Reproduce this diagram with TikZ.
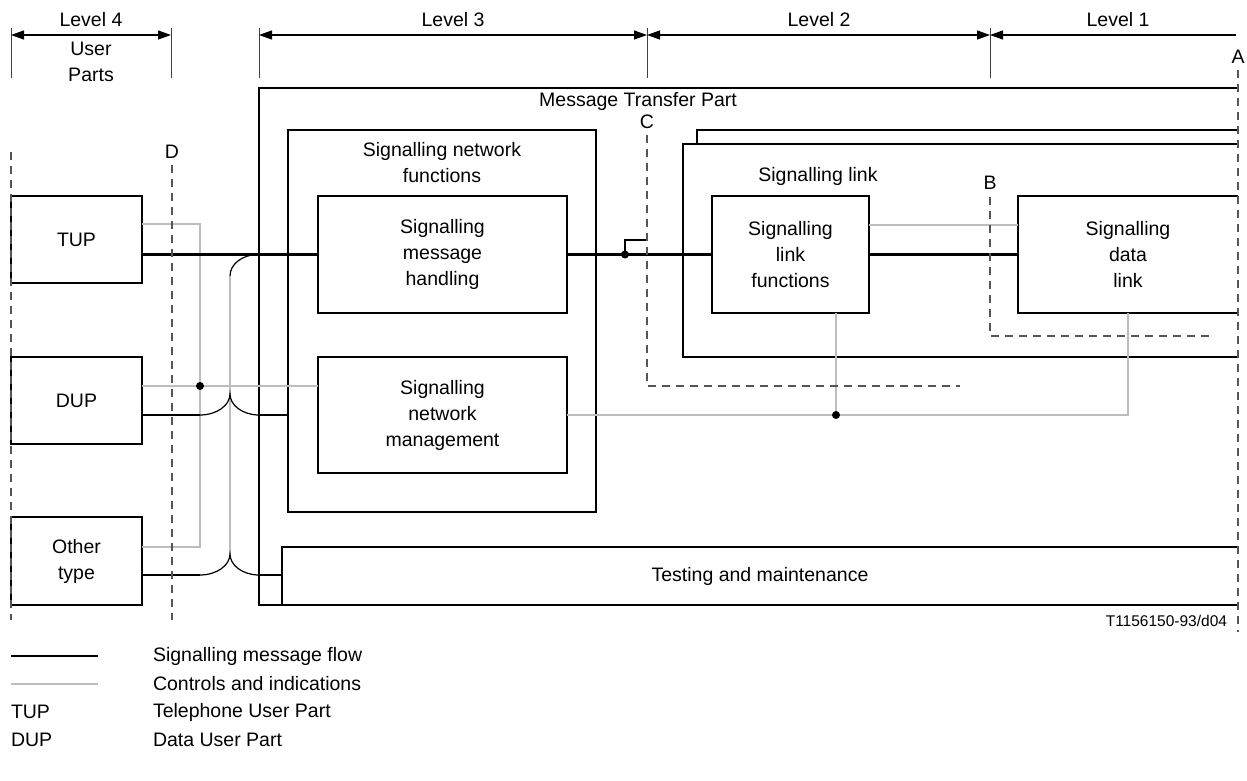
\documentclass[tikz,border=0pt]{standalone}
\usepackage{fontspec}
\setmainfont{Liberation Sans}
\usetikzlibrary{arrows.meta}
\definecolor{ctrlgray}{HTML}{BDBDBD}
\definecolor{dashgray}{HTML}{555555}
\begin{document}
\begin{tikzpicture}[x=1pt,y=-1pt,
  every node/.style={font=\fontsize{19.5}{26}\selectfont, inner sep=0pt, outer sep=0pt},
  box/.style={draw, line width=1.3pt, align=center},
  openbox/.style={align=center},
  boxline/.style={line width=1.3pt},
  txt/.style={align=center},
  flow/.style={line width=2.4pt},
  thinline/.style={line width=1.2pt},
  ctrl/.style={line width=1.5pt, draw=ctrlgray},
  dsh/.style={line width=1.3pt, draw=dashgray, dash pattern=on 8pt off 6pt},
  tick/.style={line width=1pt, draw=black!75},
  dimarrow/.style={line width=1.2pt, {Triangle[length=13pt,width=9pt]}-{Triangle[length=13pt,width=9pt]}},
  dimarrowl/.style={line width=1.2pt, {Triangle[length=13pt,width=9pt]}-},
  dotc/.style={circle, fill, minimum size=8pt, inner sep=0pt}
]
\useasboundingbox (0,0) rectangle (1247,781);

% ---------- level dimension lines ----------
\coordinate (t4a) at (11,28);  \coordinate (t4b) at (11,78);
\coordinate (tDa) at (171,28); \coordinate (tDb) at (171,78);
\coordinate (t3a) at (259,28); \coordinate (t3b) at (259,78);
\coordinate (t2a) at (647,28); \coordinate (t2b) at (647,78);
\coordinate (t1a) at (990,28); \coordinate (t1b) at (990,78);
\coordinate (tEnd) at (1236,35);
\draw[tick] (t4a) -- (t4b);
\draw[tick] (tDa) -- (tDb);
\draw[tick] (t3a) -- (t3b);
\draw[tick] (t2a) -- (t2b);
\draw[tick] (t1a) -- (t1b);
\coordinate (a4l) at (11,35);  \coordinate (a4r) at (171,35);
\coordinate (a3l) at (259,35); \coordinate (a3r) at (647,35);
\coordinate (a2l) at (647,35); \coordinate (a2r) at (990,35);
\coordinate (a1l) at (990,35);
\draw[dimarrow] (a4l) -- (a4r);
\draw[dimarrow] (a3l) -- (a3r);
\draw[dimarrow] (a2l) -- (a2r);
\draw[dimarrowl] (a1l) -- (tEnd);
\node (lv4) at (91,20) {Level 4};
\node[txt] (up) at (91,62) {User\\Parts};
\node (lv3) at (453,20) {Level 3};
\node (lv2) at (819,20) {Level 2};
\node (lv1) at (1118,20) {Level 1};

% ---------- user part boxes ----------
\node[box, minimum width=131pt, minimum height=87pt] (tup) at (76.5,239.5) {TUP};
\node[box, minimum width=131pt, minimum height=87pt] (dup) at (76.5,400.5) {DUP};
\node[box, minimum width=131pt, minimum height=88pt] (oth) at (76.5,561) {Other\\type};

% ---------- message transfer part ----------
\node[minimum width=979pt, minimum height=517pt] (mtp) at (748.5,346.5) {};
\draw[boxline] (mtp.north east) -| (mtp.south west) -- (mtp.south east);
\node (mtpt) at (638,101) {Message Transfer Part};

\node[box, minimum width=308pt, minimum height=382pt] (snf) at (442,321) {};
\node[txt] (snft) at (442,163) {Signalling network\\functions};
\node[box, minimum width=249pt, minimum height=117pt] (smh) at (442.5,254.5) {Signalling\\message\\handling};
\node[box, minimum width=249pt, minimum height=116pt] (snm) at (442.5,415) {Signalling\\network\\management};

% signalling link (stacked)
\node[minimum width=541pt, minimum height=227pt] (slback) at (967.5,243.5) {};
\node[minimum width=555pt, minimum height=213pt] (slfront) at (960.5,250.5) {};
\draw[boxline] (slback.north east) -| (slback.west |- slfront.north);
\draw[boxline] (slfront.north east) -| (slfront.south west) -- (slfront.south east);
\node (slt) at (818,176) {Signalling link};
\node[box, minimum width=157pt, minimum height=117pt] (slf) at (790.5,254.5) {Signalling\\link\\functions};
\node[openbox, minimum width=220pt, minimum height=117pt] (sdl) at (1128,254.5) {Signalling\\data\\link};
\draw[boxline] (sdl.north east) -| (sdl.south west) -- (sdl.south east);

% testing and maintenance
\node[openbox, minimum width=956pt, minimum height=58pt] (tst) at (760,576) {Testing and maintenance};
\draw[boxline] (tst.north east) -| (tst.south west) -- (tst.south east);

% ---------- control lines (grey) ----------
\coordinate (g1) at (200,224);
\coordinate (g2) at (200,547);
\coordinate (gd) at (200,386);
\draw[ctrl] (tup.east |- g1) -- (g1) -- (g2) -- (oth.east |- g2);
\draw[ctrl] (dup.east |- gd) -- (snm.west |- gd);
\coordinate (gs) at (900,225);
\draw[ctrl] (slf.east |- gs) -- (sdl.west |- gs);
\coordinate (gj) at (836,415);
\coordinate (gk) at (1128,415);
\draw[ctrl] (gj |- slf.south) -- (gj);
\draw[ctrl] (snm.east) -- (gk) -- (sdl.south);

% bus line to testing and maintenance
\coordinate (bt) at (258,254.5);
\coordinate (bm) at (230,276);
\coordinate (dl) at (200,415);
\coordinate (dm) at (230,394);
\coordinate (dr) at (259,415);
\coordinate (ol) at (200,575);
\coordinate (om) at (230,554);
\coordinate (or) at (259,575);
\draw[ctrl] (bm) -- (om);
\draw[thinline] (bt) .. controls (242.6,254.5) and (230,264) .. (bm);

% ---------- signalling message flow (black) ----------
\draw[flow] (tup.east |- smh.west) -- (smh.west);
\draw[flow] (dup.east |- dl) -- (dl);
\draw[thinline] (dl) .. controls (216.5,415) and (230,405.5) .. (dm)
                     .. controls (230,405.5) and (243,415) .. (dr);
\draw[flow] (dr) -- (snf.west |- dr);
\draw[flow] (oth.east |- ol) -- (ol);
\draw[thinline] (ol) .. controls (216.5,575) and (230,565.5) .. (om)
                     .. controls (230,565.5) and (243,575) .. (or);
\draw[flow] (or) -- (tst.west |- or);

\draw[flow] (smh.east) -- (slf.west);
\coordinate (jn) at (625,254.5);
\coordinate (cb) at (647,240);
\draw[thinline] (jn) |- (cb);
\node[dotc] (jdot) at (jn) {};
\draw[flow] (slf.east) -- (sdl.west);

\node[dotc] (gddot) at (gd) {};
\node[dotc] (gjdot) at (gj) {};

% ---------- dashed interface lines ----------
\coordinate (dL1) at (11,152);  \coordinate (dL2) at (11,620);
\coordinate (dD1) at (172,165); \coordinate (dD2) at (172,620);
\coordinate (dA1) at (1238,70); \coordinate (dA2) at (1238,632);
\coordinate (dB1) at (990,197); \coordinate (dB2) at (990,336); \coordinate (dB3) at (1213,336);
\coordinate (dC1) at (647,135); \coordinate (dC2) at (647,386); \coordinate (dC3) at (960,386);
\draw[dsh] (dL1) -- (dL2);
\draw[dsh] (dD1) -- (dD2);
\draw[dsh] (dA1) -- (dA2);
\draw[dsh] (dB1) -- (dB2) -- (dB3);
\draw[dsh] (dC1) -- (dC2) -- (dC3);
\node (lA) at (1238,57) {A};
\node (lB) at (990,183) {B};
\node (lC) at (647,122) {C};
\node (lD) at (172,152) {D};

\node[anchor=east, font=\fontsize{15.5}{18}\selectfont] (code) at (1227,621) {T1156150-93/d04};

% ---------- legend ----------
\coordinate (lg1a) at (11,656); \coordinate (lg1b) at (98,656);
\coordinate (lg2a) at (11,684); \coordinate (lg2b) at (98,684);
\draw[line width=2pt] (lg1a) -- (lg1b);
\draw[ctrl] (lg2a) -- (lg2b);
\node[anchor=west] (lt1) at (153,656) {Signalling message flow};
\node[anchor=west] (lt2) at (153,684) {Controls and indications};
\node[anchor=west] (lt3a) at (11,712) {TUP};
\node[anchor=west] (lt3) at (153,712) {Telephone User Part};
\node[anchor=west] (lt4a) at (11,740) {DUP};
\node[anchor=west] (lt4) at (153,740) {Data User Part};
\end{tikzpicture}
\end{document}
